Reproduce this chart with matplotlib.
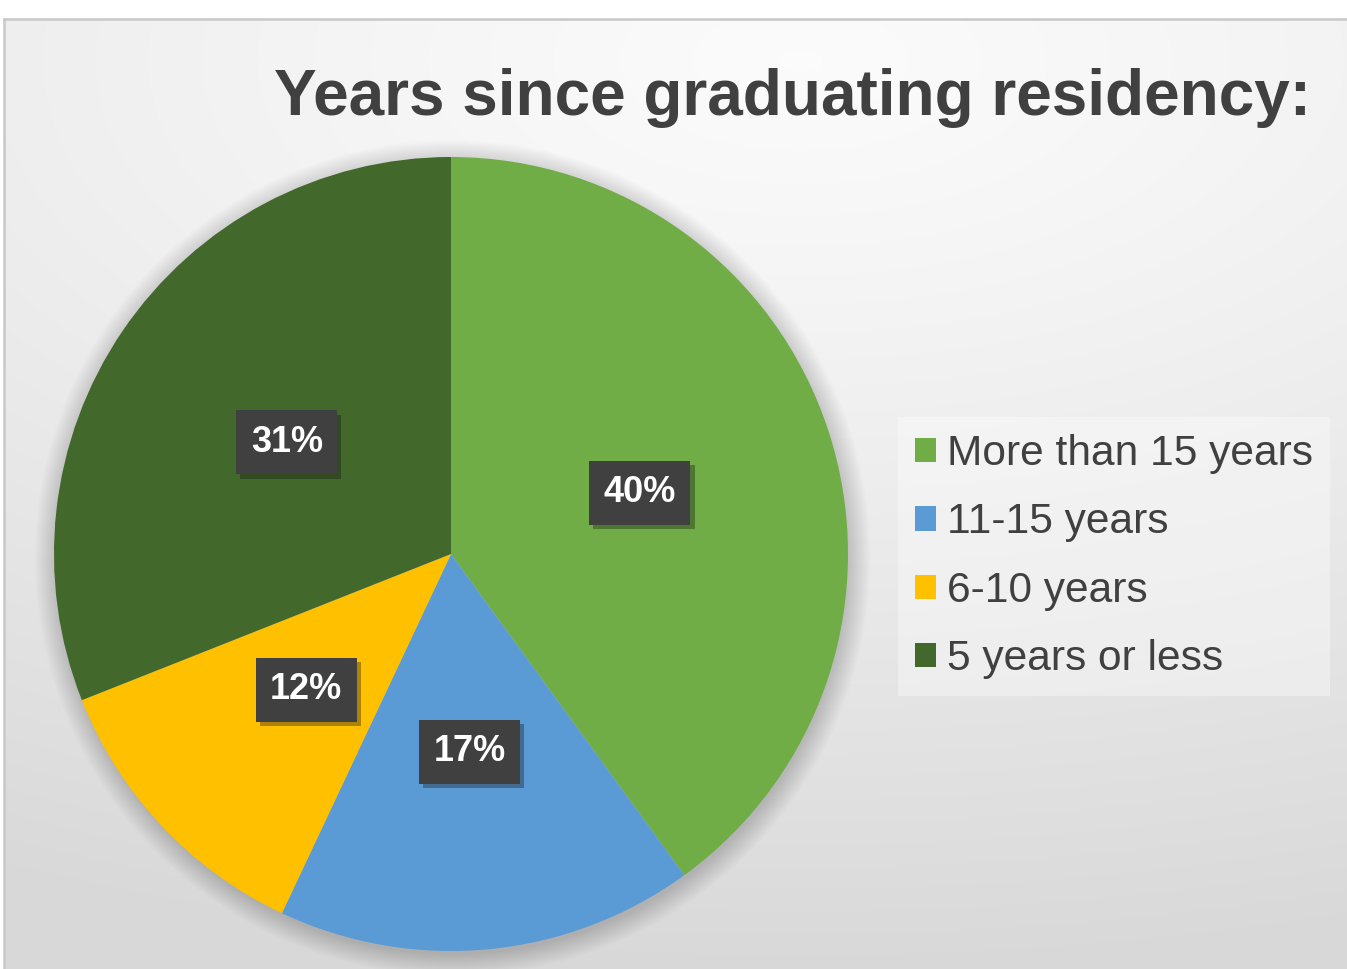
import matplotlib.pyplot as plt
import matplotlib.patheffects as pe
from matplotlib.patches import Rectangle, Circle
import numpy as np

plt.rcParams['font.family'] = ['Liberation Sans', 'DejaVu Sans']

# data
categories = ['More than 15 years', '11-15 years', '6-10 years', '5 years or less']
shares = [40, 17, 12, 31]
colors = ['#70AD47', '#5B9BD5', '#FFC000', '#43682B']
title = 'Years since graduating residency:'

W, H = 1347, 969
fig = plt.figure(figsize=(W / 100, H / 100), dpi=100)

# background with soft radial gradient
bg = fig.add_axes([0, 0, 1, 1])
bg.set_xlim(0, W)
bg.set_ylim(H, 0)
bg.axis('off')
yy, xx = np.mgrid[0:H, 0:W]
d = np.hypot((xx - 800) / 2.0, yy - 60)
shade = 0.985 - 0.135 * np.clip(d / 900, 0, 1) ** 1.2
rgb = np.dstack([shade, shade, shade])
bg.imshow(rgb, extent=(0, W, H, 0), aspect='auto', interpolation='bilinear')
bg.add_patch(Rectangle((0, 0), W, 19, color='white', lw=0))
bg.add_patch(Rectangle((0, 0), 4, H, color='white', lw=0))
bg.plot([4, 4], [H, 19], color='#C8C8C8', lw=1.8)
bg.plot([4, W], [19, 19], color='#C8C8C8', lw=1.8)

# pie
ax = fig.add_axes([54 / W, 18 / H, 794 / W, 794 / H])

# soft shadow behind the pie
for i in range(14):
    ax.add_patch(Circle((0.004, -0.01), 1 + 0.004 * i, color='k', alpha=0.012,
                        lw=0, clip_on=False, zorder=0))

wedges, texts, autotexts = ax.pie(shares, colors=colors, startangle=90, counterclock=False,
                                  autopct='%1.0f%%', pctdistance=0.5, radius=1,
                                  wedgeprops=dict(linewidth=0))
ax.set_xlim(-1, 1)
ax.set_ylim(-1, 1)
ax.axis('off')

for t in autotexts:
    t.set_color('white')
    t.set_fontsize(26)
    t.set_fontweight('bold')
    t.set_bbox(dict(boxstyle='square,pad=0.4', fc='#404040', ec='none'))
    t.get_bbox_patch().set_path_effects([pe.SimplePatchShadow(offset=(3, -3), alpha=0.35),
                                         pe.Normal()])

leg = ax.legend(wedges, categories, loc='upper left',
                bbox_to_anchor=(898 / W, 1 - 417 / H), bbox_transform=fig.transFigure,
                fontsize=30.6, frameon=True, facecolor='white', framealpha=0.35,
                edgecolor='none', fancybox=False, handlelength=0.5, handleheight=0.5,
                handletextpad=0.25, labelspacing=0.67, borderpad=0.4, borderaxespad=0,
                labelcolor='#404040')

fig.text(792 / W, 1 - 115 / H, title, ha='center', va='baseline', fontsize=46,
         fontweight='bold', color='#404040')

fig.savefig('out.png', dpi=100)
